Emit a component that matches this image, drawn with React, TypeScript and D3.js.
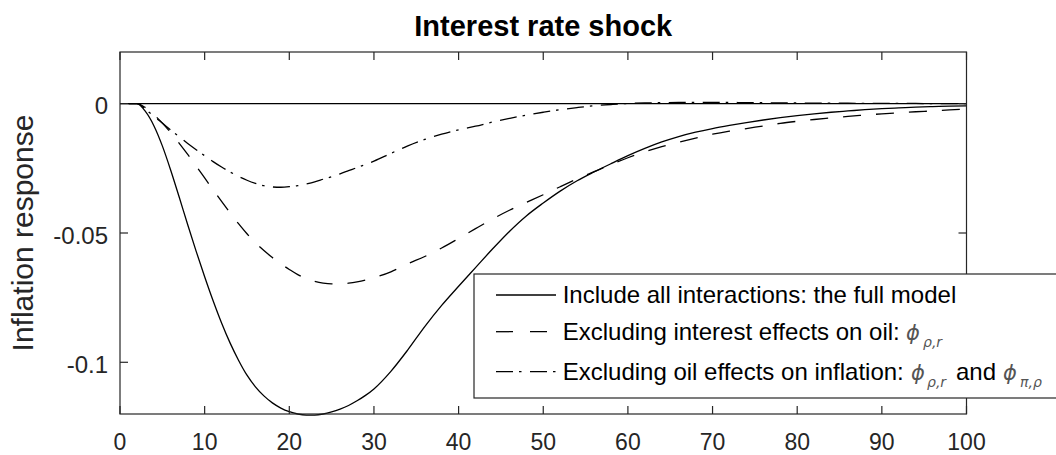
import React from "react";
import * as d3 from "d3";

const periods = [
  1, 2, 3, 4, 5, 6, 7, 8, 9, 10, 11, 12, 13, 14, 15, 16, 17, 18, 19, 20,
  21, 22, 23, 24, 25, 26, 27, 28, 29, 30,
  32, 34, 36, 38, 40, 42, 44, 46, 48, 50, 52, 54, 56, 58, 60, 62, 64, 66, 68, 70,
  72, 74, 76, 78, 80, 82, 84, 86, 88, 90, 92, 94, 96, 98, 100,
];

// Include all interactions: the full model
const fullModel = [
  0, 0, -0.003, -0.0085, -0.0163, -0.0258, -0.0362, -0.0468, -0.0571, -0.0669,
  -0.0762, -0.0848, -0.0925, -0.0992, -0.105, -0.1095, -0.113, -0.1157, -0.1177, -0.1191,
  -0.12, -0.1204, -0.1204, -0.12, -0.1192, -0.1181, -0.1167, -0.1149, -0.1128, -0.1103,
  -0.1035, -0.0952, -0.0862, -0.078, -0.0706, -0.0634, -0.0562, -0.0494, -0.0434, -0.0384,
  -0.0338, -0.0298, -0.0264, -0.0232, -0.0201, -0.0173, -0.0148, -0.0127, -0.011, -0.0096,
  -0.0084, -0.0073, -0.0063, -0.0054, -0.0046, -0.0039, -0.0033, -0.0028, -0.0023, -0.0019,
  -0.0016, -0.0013, -0.0011, -0.0009, -0.0008,
];

// Excluding interest effects on oil
const noInterestOnOil = [
  0, 0, -0.0015, -0.0042, -0.0075, -0.0112, -0.0153, -0.0196, -0.0241, -0.0287,
  -0.0333, -0.0378, -0.0422, -0.0464, -0.0503, -0.0538, -0.0568, -0.0595, -0.0619, -0.0641,
  -0.0661, -0.0676, -0.0687, -0.0694, -0.0697, -0.0697, -0.0694, -0.0689, -0.0682, -0.0673,
  -0.065, -0.0619, -0.0591, -0.0558, -0.0521, -0.0483, -0.0446, -0.0412, -0.0382, -0.0352,
  -0.0321, -0.0291, -0.0263, -0.0235, -0.0209, -0.0186, -0.0166, -0.0149, -0.0133, -0.0118,
  -0.0106, -0.0096, -0.0086, -0.0076, -0.0068, -0.0061, -0.0055, -0.0049, -0.0044, -0.0039,
  -0.0035, -0.0031, -0.0028, -0.0024, -0.0021,
];

// Excluding oil effects on inflation
const noOilOnInflation = [
  0, 0, -0.0022, -0.0048, -0.0075, -0.0102, -0.0128, -0.0154, -0.0178, -0.0201,
  -0.0224, -0.0245, -0.0264, -0.0281, -0.0296, -0.0308, -0.0317, -0.0322, -0.0323, -0.0321,
  -0.0317, -0.031, -0.0302, -0.0292, -0.0282, -0.0271, -0.0259, -0.0247, -0.0235, -0.0222,
  -0.0192, -0.0163, -0.0138, -0.0118, -0.0101, -0.0087, -0.0071, -0.0057, -0.0044, -0.0033,
  -0.0023, -0.0015, -0.0008, -0.0003, 0.0001, 0.0003, 0.0004, 0.0005, 0.0005, 0.0005,
  0.0005, 0.0004, 0.0004, 0.0003, 0.0003, 0.0002, 0.0002, 0.0002, 0.0001, 0.0001,
  0.0001, 0.0001, 0, 0, 0,
];

const zeroLine = [0];
const xDomain = [0, 100];
const yDomain = [-0.12, 0.02];
const xTicks = [0, 10, 20, 30, 40, 50, 60, 70, 80, 90, 100];
const yTicks = [0, -0.05, -0.1];
const yTickLabels = ["0", "-0.05", "-0.1"];

const title = "Interest rate shock";
const yLabel = "Inflation response";
const legendLabels = [
  "Include all interactions: the full model",
  "Excluding interest effects on oil:",
  "Excluding oil effects on inflation:",
];

const FONT = "'Liberation Sans', Arial, Helvetica, sans-serif";
const AX = "#262626";

export default function App() {
  const W = 1056;
  const H = 455;
  const left = 120;
  const right = 966.5;
  const top = 52;
  const bottom = 414;

  const x = d3.scaleLinear().domain(xDomain).range([left, right]);
  const y = d3.scaleLinear().domain(yDomain).range([bottom, top]);

  const line = d3
    .line<[number, number]>()
    .x((d) => x(d[0]))
    .y((d) => y(d[1]))
    .curve(d3.curveMonotoneX);

  const mk = (vals: number[]) => periods.map((p, i) => [p, vals[i]] as [number, number]);

  const series = [
    { vals: fullModel, dash: undefined as string | undefined, legendDash: undefined as string | undefined },
    { vals: noInterestOnOil, dash: "18,15", legendDash: "17,17" },
    { vals: noOilOnInflation, dash: "17,6,2.5,8.5", legendDash: "17,6,2.5,8.5" },
  ];

  const tickLen = 8;
  const lg = { x: 474, y: 274, w: 600, h: 124 };
  const rowY = [295, 331.7, 371.7];
  const rowBase = [303.3, 340, 380];
  const textX = 562.7;

  const phiStyle = {
    fontFamily: "'DejaVu Sans', sans-serif",
    fontStyle: "italic" as const,
    fontSize: 21,
    fill: "#555",
  };
  const subStyle = {
    fontFamily: "'DejaVu Sans', sans-serif",
    fontStyle: "italic" as const,
    fontSize: 14,
    fill: "#555",
  };

  return (
    <div style={{ position: "absolute", left: 0, top: 0, width: W, height: H, background: "#fff" }}>
      <svg width={W} height={H} style={{ display: "block" }} fontFamily={FONT}>
        <rect x={0} y={0} width={W} height={H} fill="#fff" />

        {/* title */}
        <text x={(left + right) / 2} y={36} textAnchor="middle" fontSize={29} fontWeight="bold" fill="#000">
          {title}
        </text>

        {/* y label */}
        <text
          transform={`translate(33,${(top + bottom) / 2}) rotate(-90)`}
          textAnchor="middle"
          fontSize={30}
          fill={AX}
        >
          {yLabel}
        </text>

        {/* zero reference line */}
        {zeroLine.map((v, i) => (
          <line key={i} x1={x(xDomain[0])} x2={x(xDomain[1])} y1={y(v)} y2={y(v)} stroke="#000" strokeWidth={1.3} />
        ))}

        {/* series */}
        {series.map((s, i) => (
          <path
            key={i}
            d={line(mk(s.vals)) || ""}
            fill="none"
            stroke="#000"
            strokeWidth={1.3}
            strokeDasharray={s.dash}
          />
        ))}

        {/* axes box */}
        <rect x={left} y={top} width={right - left} height={bottom - top} fill="none" stroke={AX} strokeWidth={1.2} />

        {/* x ticks */}
        {xTicks.map((t) => (
          <g key={t}>
            <line x1={x(t)} x2={x(t)} y1={bottom} y2={bottom - tickLen} stroke={AX} strokeWidth={1.2} />
            <line x1={x(t)} x2={x(t)} y1={top} y2={top + tickLen} stroke={AX} strokeWidth={1.2} />
            <text x={x(t)} y={450} textAnchor="middle" fontSize={23} fill={AX}>
              {t}
            </text>
          </g>
        ))}

        {/* y ticks */}
        {yTicks.map((t, i) => (
          <g key={t}>
            <line x1={left} x2={left + tickLen} y1={y(t)} y2={y(t)} stroke={AX} strokeWidth={1.2} />
            <line x1={right} x2={right - tickLen} y1={y(t)} y2={y(t)} stroke={AX} strokeWidth={1.2} />
            <text x={108} y={y(t) + 10.5} textAnchor="end" fontSize={24} fill={AX}>
              {yTickLabels[i]}
            </text>
          </g>
        ))}

        {/* legend */}
        <rect x={lg.x} y={lg.y} width={lg.w} height={lg.h} fill="#fff" stroke={AX} strokeWidth={1.2} />
        {series.map((s, i) => (
          <line
            key={i}
            x1={496}
            x2={556}
            y1={rowY[i]}
            y2={rowY[i]}
            stroke="#000"
            strokeWidth={1.3}
            strokeDasharray={s.legendDash}
          />
        ))}
        {legendLabels.map((l, i) => (
          <text key={i} x={textX} y={rowBase[i]} fontSize={24} fill="#000">
            {l}
          </text>
        ))}
        {/* row 2 symbols */}
        <text x={906} y={rowBase[1]} style={phiStyle}>ϕ</text>
        <text x={923} y={rowBase[1] + 7} style={subStyle}>ρ,r</text>
        {/* row 3 symbols */}
        <text x={911} y={rowBase[2]} style={phiStyle}>ϕ</text>
        <text x={927} y={rowBase[2] + 7} style={subStyle}>ρ,r</text>
        <text x={956} y={rowBase[2]} fontSize={24} fill="#000">and</text>
        <text x={1003} y={rowBase[2]} style={phiStyle}>ϕ</text>
        <text x={1020} y={rowBase[2] + 7} style={subStyle}>π,ρ</text>
      </svg>
    </div>
  );
}
